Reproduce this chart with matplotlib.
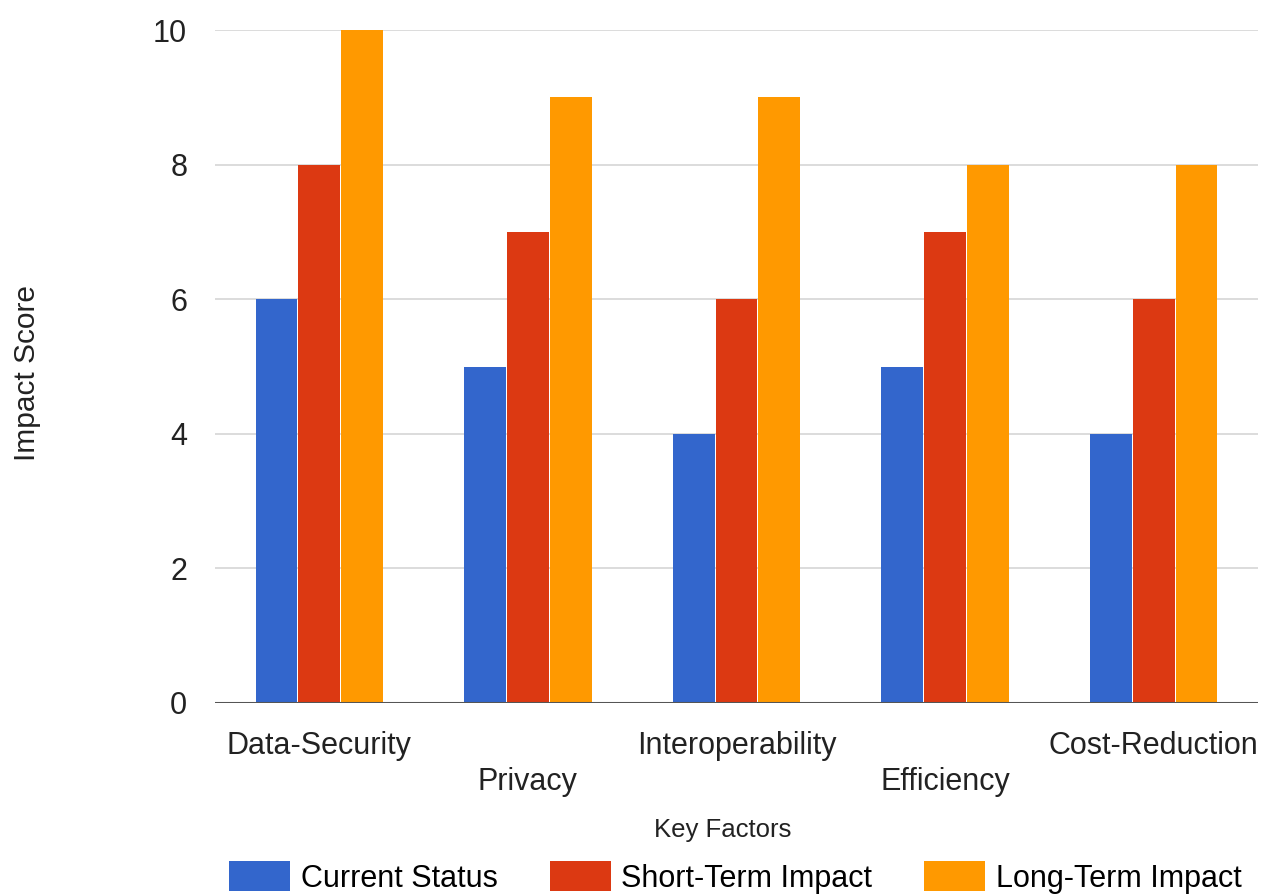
import numpy as np
import matplotlib
matplotlib.use("Agg")
import matplotlib.pyplot as plt

plt.rcParams['font.family'] = ['Liberation Sans', 'DejaVu Sans']

categories = ["Data-Security", "Privacy", "Interoperability", "Efficiency", "Cost-Reduction"]
current_status = [6, 5, 4, 5, 4]
short_term = [8, 7, 6, 7, 6]
long_term = [10, 9, 9, 8, 8]
series_names = ["Current Status", "Short-Term Impact", "Long-Term Impact"]
colors = ["#3366CC", "#DC3912", "#FF9900"]

fig = plt.figure(figsize=(12.62, 8.94), dpi=100)
ax = fig.add_axes([215 / 1262, 1 - 703 / 894, (1258 - 215) / 1262, (703 - 30) / 894])

x = np.arange(len(categories))
width = 0.2
step = 0.205
for i, (vals, name, col) in enumerate(zip([current_status, short_term, long_term], series_names, colors)):
    ax.bar(x + (i - 1) * step, vals, width, color=col, label=name, zorder=3)

ax.set_xlim(-0.5, len(categories) - 0.5)
ax.set_ylim(0, 10)
ax.set_yticks(range(0, 11, 2))
ax.grid(axis="y", color="#d6d6d6", linewidth=1.2, zorder=0)
ax.axhline(0, color="#555555", linewidth=2.2, zorder=4)
for s in ax.spines.values():
    s.set_visible(False)

# staggered labels like the original
labels = [c if i % 2 == 0 else "\n" + c for i, c in enumerate(categories)]
ax.set_xticks(x)
ax.set_xticklabels(labels, fontsize=22, color="#222222", linespacing=1.25)
ax.tick_params(axis="x", length=0, pad=20)
ax.tick_params(axis="y", length=0, pad=20, labelsize=22, labelcolor="#222222")

ax.set_xlabel("Key Factors", fontsize=18.5, color="#222222")
ax.xaxis.set_label_coords(0.487, -0.1715)
ax.set_ylabel("Impact Score", fontsize=21.5, color="#222222")
ax.yaxis.set_label_coords(-0.1666, 0.49)

fig.legend(loc="upper left", bbox_to_anchor=(229 / 1262, 1 - 861 / 894), ncol=3,
           frameon=False, fontsize=22, handlelength=2.0, handleheight=1.15,
           handletextpad=0.35, columnspacing=1.7, borderpad=0, borderaxespad=0)

fig.savefig("out.png", dpi=100)
